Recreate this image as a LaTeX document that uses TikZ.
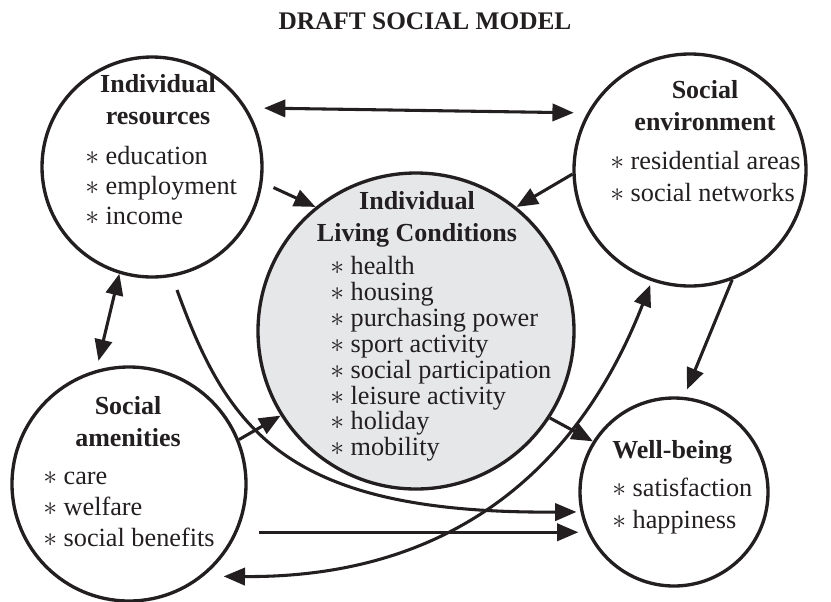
\documentclass[tikz,border=0pt]{standalone}
\usepackage{fontspec}
\setmainfont{Liberation Serif}
\usetikzlibrary{arrows.meta}
\usetikzlibrary{calc}
\definecolor{ink}{RGB}{35,31,32}
\definecolor{livgray}{RGB}{230,231,233}
\newcommand{\itm}[1]{\strut$\ast$ #1}
\newcommand{\itmplain}[1]{$\ast$ #1}

\begin{document}
\begin{tikzpicture}[x=0.75pt, y=-0.75pt,
    bubble/.style={circle, draw=ink, line width=2.5pt, inner sep=0pt},
    head/.style={font=\fontsize{19.5}{24}\selectfont\bfseries, align=center, inner sep=0pt, text=ink},
    items/.style={font=\fontsize{19.7}{#1}\selectfont, align=left, anchor=west, inner sep=0pt, text=ink},
    link/.style={draw=ink, line width=2.3pt, -{Triangle[length=16pt,width=13pt]}},
    twoway/.style={link, {Triangle[length=16pt,width=13pt]}-{Triangle[length=16pt,width=13pt]}}]
      \useasboundingbox (0,0) rectangle (831,601);

      \node[font=\fontsize{19}{19}\selectfont\bfseries, text=ink] (title) at (425,21) {DRAFT SOCIAL MODEL};

      \node[bubble, minimum size=165pt] (res) at (152,167) {};
      \node[bubble, minimum size=174pt] (env) at (690,170) {};
      \node[bubble, fill=livgray, minimum size=237pt] (liv) at (416,331) {};
      \node[bubble, minimum size=175.5pt] (ame) at (129,484) {};
      \node[bubble, minimum size=141pt] (wel) at (674,492) {};

      \node[head] (reshead) at (158,102) {\strut Individual\\\strut resources};
      \node[items=22.5] (reslist) at (85,188) {\itm{education}\\\itm{employment}\\\itm{income}};
      \node[head] (envhead) at (705,108) {\strut Social\\\strut environment};
      \node[items=24] (envlist) at (610,179) {\itm{residential areas}\\\itm{social networks}};
      \node[head] (livhead) at (417,219) {Individual\\Living Conditions};
      \node[items=19.4] (livlist) at (330,359) {\itmplain{health}\\\itmplain{housing}\\\itmplain{purchasing power}\\\itmplain{sport activity}\\\itmplain{social participation}\\\itmplain{leisure activity}\\\itmplain{holiday}\\\itmplain{mobility}};
      \node[head] (amehead) at (128,424) {\strut Social\\\strut amenities};
      \node[items=23.25] (amelist) at (43,509) {\itm{care}\\\itm{welfare}\\\itm{social benefits}};
      \node[head, anchor=west] (welhead) at (612,452) {\strut Well-being};
      \node[items=24] (wellist) at (612,506) {\itm{satisfaction}\\\itm{happiness}};

      \draw[twoway, shorten <=13pt, shorten >=10pt] (res.32) -- (env.151);
      \draw[link, shorten <=9pt] (res.352) -- (liv.129);
      \draw[link] (env.182) -- (liv.51);
      \draw[twoway, shorten >=7pt] (res.253) -- (ame.106);
      \draw[link] (ame.22) -- (liv.212);
      \draw[link] (liv.327) -- (wel.148);
      \draw[link, shorten >=6pt] (env.291) -- (wel.84);
      \draw[link, shorten <=16pt] (ame.336) -- (ame.336 -| wel.west);

      \coordinate (bend) at (177,290);
      \draw[link, shorten >=3pt] (bend) .. controls (228,430) and (285,514) .. (wel.192);
      \draw[twoway, shorten <=15pt, shorten >=3pt] (ame.309) .. controls (430,578) and (570,490) .. (env.251);
    \end{tikzpicture}
\end{document}
